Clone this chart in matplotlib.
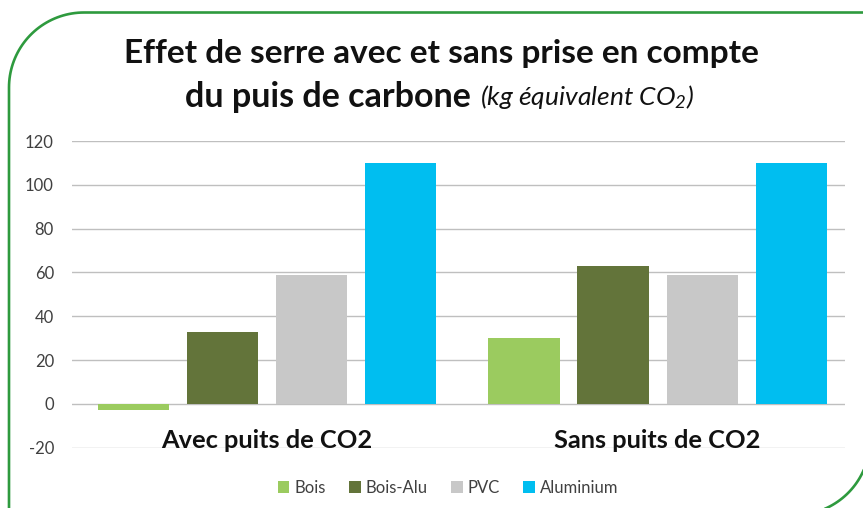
import matplotlib
matplotlib.use("Agg")
import matplotlib.pyplot as plt
from matplotlib.patches import PathPatch
from matplotlib.path import Path
import numpy as np

plt.rcParams['font.family'] = ['Lato', 'DejaVu Sans']
plt.rcParams['mathtext.fontset'] = 'custom'
plt.rcParams['mathtext.rm'] = 'Lato:italic'
plt.rcParams['mathtext.it'] = 'Lato:italic'

categories = ["Avec puits de CO2", "Sans puits de CO2"]
series_names = ["Bois", "Bois-Alu", "PVC", "Aluminium"]
bois = [-3, 30]
bois_alu = [33, 63]
pvc = [59, 59]
aluminium = [110, 110]
yticks = [-20, 0, 20, 40, 60, 80, 100, 120]
colors = ["#9BCB5F", "#63743A", "#C8C8C8", "#00BEF0"]

W, H = 863, 508
fig = plt.figure(figsize=(W / 100, H / 100), dpi=100)
ax = fig.add_axes([72 / W, (H - 447.7) / H, (845 - 72) / W, (447.7 - 141) / H])

x = np.arange(len(categories))
step = 0.228
width = 0.182
for i, (vals, name, c) in enumerate(zip([bois, bois_alu, pvc, aluminium], series_names, colors)):
    ax.bar(x + (i - 1.5) * step, vals, width=width, color=c, label=name, zorder=3)

ax.set_xlim(-0.4994, 1.4801)
ax.set_ylim(-20, 120)
ax.set_yticks(yticks)
ax.set_yticklabels([str(v) for v in yticks], fontsize=12, color="#404040")
ax.set_xticks([])
ax.tick_params(axis='y', length=0, pad=13)
ax.grid(axis='y', color="#BFBFBF", linewidth=1.0, zorder=0)
for s in ax.spines.values():
    s.set_visible(False)

for xi, cat in zip(x, categories):
    ax.text(xi, -16.5, cat, ha='center', va='center', fontsize=18.3, fontweight='bold',
            color="#111111", zorder=4)

leg = fig.legend(loc='center', bbox_to_anchor=(448 / W, (H - 488) / H), ncol=4, frameon=False,
                 fontsize=12, handlelength=0.7, handleheight=0.7, handletextpad=0.3,
                 columnspacing=1.4)
for t in leg.get_texts():
    t.set_color("#404040")

fig.text(441 / W, (H - 53) / H, "Effet de serre avec et sans prise en compte",
         ha='center', va='center', fontsize=24, fontweight='bold', color="#111111")
fig.text(471 / W, (H - 97) / H, "du puis de carbone", ha='right', va='center',
         fontsize=24.5, fontweight='bold', color="#111111")
fig.text(480 / W, (H - 97) / H, "(kg équivalent CO$_2$)", ha='left', va='center',
         fontsize=19, style='italic', color="#111111")

# green frame (decoration): rounded top-left and bottom-right corners, pixel coords y downward
def arc(cx, cy, r, a0, a1, n=40):
    t = np.linspace(np.radians(a0), np.radians(a1), n)
    return np.column_stack([cx + r * np.cos(t), cy + r * np.sin(t)])

r = 75
L, T, R, B = 9, 12.5, 870, 515
pts = np.vstack([
    [[L, B + 10]],
    arc(L + r, T + r, r, 180, 270),
    [[R + 20, T]],
    [[R + 20, T + 1]],
])
pts2 = np.vstack([
    [[R, B - r - 60]],
    arc(R - r, B - r, r, 0, 90),
    [[L + r - 40, B]],
])
for p in (pts, pts2):
    pf = np.column_stack([p[:, 0] / W, (H - p[:, 1]) / H])
    fig.add_artist(PathPatch(Path(pf), transform=fig.transFigure, fill=False,
                             edgecolor="#2E9A3E", linewidth=1.9, clip_on=False))

fig.savefig("out.png", dpi=100)
